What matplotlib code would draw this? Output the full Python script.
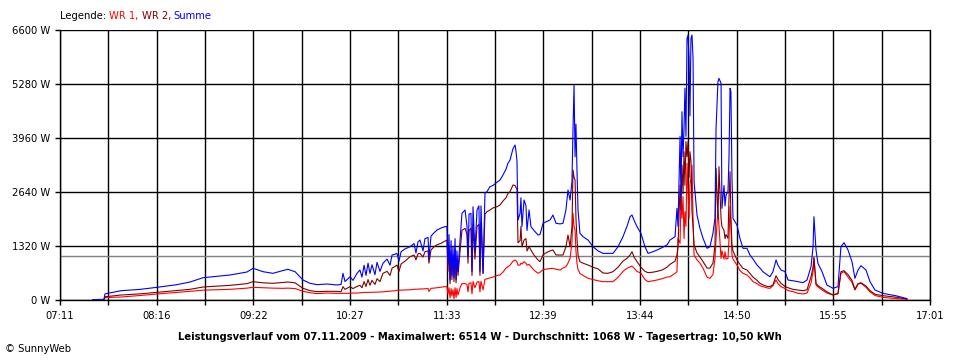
import matplotlib as mpl
mpl.use('Agg')
import matplotlib.pyplot as plt

# Zeitpunkte in Minuten seit Mitternacht
minuten = [453.4, 460.8, 461.5, 465.6, 472.4, 485.3, 496.8, 510.3, 519.2, 528.0,
           546.3, 557.8, 561.9, 568.7, 575.4, 582.2, 585.6, 590.4, 595.8, 600.5,
           605.3, 612.1, 618.8, 621.6, 622.9, 624.3, 627.7, 629.7, 632.4, 634.4,
           635.8, 637.2, 638.5, 639.9, 641.2, 642.6, 644.6, 646.0, 648.0, 650.0,
           652.8, 654.8, 656.2, 658.2, 659.5, 660.9, 662.3, 665.0, 668.4, 671.1,
           672.4, 673.8, 675.1, 677.2, 678.5, 680.6, 681.2, 682.6, 684.6, 686.7,
           689.4, 692.1, 693.4, 694.1, 694.8, 695.5, 696.2, 696.8, 697.5, 698.2,
           698.9, 699.6, 700.2, 700.9, 702.3, 703.6, 705.7, 707.0, 707.7, 708.4,
           709.7, 710.4, 711.1, 712.4, 713.8, 715.1, 715.8, 716.5, 717.9, 719.2,
           720.6, 722.6, 724.6, 727.4, 729.4, 731.4, 733.5, 734.8, 736.2, 738.2,
           739.6, 740.2, 740.9, 741.6, 743.0, 743.6, 744.3, 745.7, 747.0, 747.7,
           749.1, 750.4, 752.4, 755.2, 756.5, 758.6, 759.9, 763.3, 765.3, 767.4,
           770.1, 772.1, 774.1, 775.5, 776.9, 778.2, 778.9, 779.6, 780.3, 780.9,
           781.6, 782.3, 783.6, 785.7, 789.1, 792.5, 795.9, 799.2, 802.6, 806.0,
           809.4, 812.8, 815.5, 817.6, 818.9, 820.3, 822.3, 825.0, 827.7, 829.8,
           833.1, 835.9, 839.3, 842.6, 844.7, 848.1, 849.4, 850.1, 851.5, 852.1,
           852.8, 853.5, 854.2, 854.8, 855.5, 856.2, 856.9, 857.6, 858.2, 858.9,
           859.6, 860.3, 861.0, 863.0, 865.0, 867.1, 869.8, 871.8, 873.8, 875.2,
           875.9, 877.2, 877.9, 879.3, 879.9, 881.3, 882.0, 882.7, 884.0, 884.7,
           885.4, 886.0, 886.7, 887.4, 890.1, 892.1, 894.2, 896.9, 898.9, 901.0,
           903.7, 905.7, 907.7, 911.1, 912.5, 914.5, 916.6, 917.9, 920.0, 922.7,
           924.7, 928.1, 931.5, 934.9, 937.6, 940.3, 941.7, 942.3, 943.7, 945.0,
           947.8, 951.1, 955.2, 958.6, 960.6, 962.7, 965.4, 968.1, 970.1, 972.2,
           974.2, 977.6, 980.3, 983.7, 989.1, 998.6, 1005.4]

# Leistung in W
wr1 = [5, 7, 57, 65, 73, 110, 147, 185, 212, 240,
       261, 290, 310, 300, 290, 285, 290, 280, 212, 180,
       155, 170, 163, 163, 163, 165, 163, 170, 170, 175,
       180, 185, 185, 186, 187, 188, 190, 192, 195, 200,
       210, 215, 220, 225, 240, 240, 242, 245, 250, 260,
       262, 265, 270, 270, 275, 280, 210, 285, 290, 300,
       315, 326, 326, 150, 300, 50, 280, 100, 250, 30,
       300, 60, 280, 120, 300, 400, 400, 380, 200, 410,
       420, 150, 448, 300, 440, 450, 200, 460, 250, 505,
       520, 540, 560, 600, 611, 680, 780, 815, 850, 950,
       978, 960, 930, 850, 855, 900, 880, 937, 900, 850,
       870, 815, 730, 652, 680, 740, 750, 770, 774, 750,
       733, 780, 815, 900, 1018, 1400, 2119, 1800, 1711, 1200,
       900, 750, 652, 600, 530, 500, 470, 448, 448, 448,
       550, 700, 774, 810, 831, 780, 700, 652, 500, 448,
       470, 489, 520, 560, 570, 650, 692, 1507, 1385, 2485,
       2000, 2525, 1500, 2159, 1800, 3341, 2648, 2000, 2800, 3000,
       3300, 2000, 1100, 980, 900, 774, 560, 530, 620, 1018,
       1500, 2200, 1800, 1018, 1200, 1000, 1181, 1000, 1018, 1500,
       2281, 1800, 1100, 1000, 855, 720, 652, 611, 540, 448,
       400, 350, 326, 290, 285, 350, 489, 400, 326, 280,
       230, 204, 163, 147, 170, 408, 700, 1018, 367, 320,
       244, 170, 122, 147, 652, 692, 560, 430, 244, 390,
       408, 310, 200, 110, 65, 33, 16]

wr2 = [5, 8, 81, 95, 122, 150, 188, 230, 261, 318,
       358, 400, 448, 420, 408, 430, 440, 420, 285, 230,
       204, 212, 212, 204, 326, 260, 326, 280, 330, 360,
       300, 450, 330, 500, 360, 480, 380, 520, 450, 652,
       700, 600, 780, 820, 855, 700, 880, 950, 1059, 1100,
       980, 1130, 1140, 1050, 1180, 1200, 900, 1222, 1300, 1350,
       1385, 1440, 1466, 700, 1300, 400, 1200, 500, 1100, 450,
       1250, 420, 1000, 600, 1200, 1700, 1752, 1600, 900, 1700,
       1750, 600, 1833, 1000, 1800, 1850, 600, 1900, 652, 2100,
       2159, 2200, 2250, 2281, 2322, 2420, 2500, 2607, 2650, 2811,
       2800, 2750, 2700, 1400, 1450, 1800, 1300, 1466, 1500, 1200,
       1300, 1222, 1100, 978, 937, 1100, 1140, 1200, 1222, 1100,
       1100, 1100, 1300, 1589, 1303, 1800, 3177, 3000, 2933, 2000,
       1500, 1100, 937, 900, 855, 800, 760, 660, 652, 692,
       800, 950, 1018, 1100, 1181, 1050, 937, 800, 700, 668,
       680, 700, 733, 800, 872, 950, 1100, 1303, 2811, 2200,
       3300, 2600, 3625, 2800, 3870, 3500, 3870, 3000, 3625, 3400,
       2159, 1800, 1344, 1150, 1050, 937, 780, 780, 900, 1344,
       3218, 2000, 3259, 1996, 1800, 1700, 1500, 1600, 1507, 2500,
       3136, 2000, 1344, 1200, 978, 870, 774, 733, 650, 560,
       480, 408, 370, 326, 330, 367, 594, 500, 408, 330,
       300, 260, 244, 228, 250, 570, 800, 1043, 408, 350,
       285, 200, 122, 163, 692, 717, 620, 480, 261, 400,
       423, 342, 230, 140, 106, 65, 24]

summe = [10, 15, 150, 180, 227, 260, 310, 375, 440, 545,
         611, 684, 775, 692, 652, 720, 750, 692, 489, 408,
         375, 391, 367, 380, 652, 450, 570, 480, 650, 733,
         560, 850, 600, 900, 650, 860, 620, 920, 700, 896,
         1000, 850, 1100, 1120, 1140, 950, 1180, 1250, 1303, 1380,
         1150, 1420, 1466, 1200, 1500, 1530, 1000, 1564, 1640, 1711,
         1760, 1792, 1800, 900, 1600, 489, 1450, 600, 1300, 550,
         1500, 500, 1200, 700, 1466, 2119, 2200, 1800, 1059, 2100,
         2119, 700, 2281, 1200, 2200, 2300, 700, 2300, 652, 2607,
         2650, 2770, 2800, 2880, 2933, 3055, 3200, 3341, 3422, 3700,
         3788, 3650, 3400, 1955, 2119, 2500, 1800, 2444, 2300, 1700,
         2200, 1792, 1700, 1589, 1600, 1874, 1900, 1955, 2077, 1874,
         1860, 1874, 2200, 2689, 2444, 2900, 4155, 5255, 3500, 4300,
         3177, 2200, 1630, 1548, 1466, 1303, 1200, 1140, 1140, 1140,
         1300, 1548, 1800, 2036, 2077, 1950, 1792, 1630, 1300, 1140,
         1180, 1222, 1280, 1344, 1466, 1548, 2240, 1800, 4000, 2500,
         4603, 3500, 4200, 5174, 4000, 6390, 6477, 5907, 4500, 6396,
         6477, 5907, 2892, 2077, 1752, 1507, 1263, 1303, 1630, 2000,
         4196, 5336, 5418, 5296, 2240, 2800, 2300, 2566, 2648, 3500,
         5174, 5092, 3000, 1996, 1833, 1507, 1263, 1263, 1100, 1000,
         855, 780, 692, 600, 570, 692, 978, 850, 733, 692,
         489, 470, 448, 423, 489, 815, 1303, 2036, 1222, 896,
         692, 367, 285, 326, 1303, 1401, 1222, 937, 530, 733,
         839, 733, 448, 244, 163, 98, 33]

y_werte = [0, 1320, 2640, 3960, 5280, 6600]
x_beschriftung = ['07:11', '08:16', '09:22', '10:27', '11:33',
                  '12:39', '13:44', '14:50', '15:55', '17:01']
durchschnitt = 1068
beginn, ende = 431, 1021

plt.rcParams['font.family'] = 'DejaVu Sans'
plt.rcParams['font.size'] = 7.2

fig = plt.figure(figsize=(9.6, 3.6), dpi=100)
ax = fig.add_axes([60 / 960, 60 / 360, 870 / 960, 270 / 360])

# Raster: jede halbe Beschriftungsteilung eine Linie
schritt = (ende - beginn) / 18
x_pos = [beginn + i * schritt for i in range(19)]
labels = []
for i in range(19):
    labels.append(x_beschriftung[i // 2] if i % 2 == 0 else '')
ax.set_xticks(x_pos)
ax.set_xticklabels(labels)
ax.set_yticks(y_werte)
ax.set_yticklabels(['%d W' % v for v in y_werte])
ax.set_xlim(beginn, ende)
ax.set_ylim(0, 6600)
ax.grid(True, color='black', linewidth=1)
ax.set_axisbelow(True)
ax.tick_params(axis='x', length=3.6, width=1, color='black', pad=4.5)
ax.tick_params(axis='y', length=3.6, width=1, color='black', pad=3.2)
for s in ax.spines.values():
    s.set_linewidth(1)
ax.spines['top'].set_visible(False)

ax.axhline(durchschnitt, color='#808080', linewidth=1, zorder=2)

ax.plot(minuten, wr1, color='#ff0000', linewidth=0.8, zorder=3)
ax.plot(minuten, wr2, color='#800000', linewidth=0.8, zorder=4)
ax.plot(minuten, summe, color='#0000ff', linewidth=0.8, zorder=5)

# Legende oben links, farbige Textstücke
fig.canvas.draw()
r = fig.canvas.get_renderer()
x = 60 / 960
for txt, col in [('Legende:', 'black'), ('WR 1,', '#ff0000'),
                 ('WR 2,', '#800000'), ('Summe', '#0000ff')]:
    t = fig.text(x, 1 - 16 / 360, txt, color=col, va='center', ha='left')
    bb = t.get_window_extent(r)
    x += (bb.width + 3) / 960

fig.text(0.5, 1 - 337 / 360,
         'Leistungsverlauf vom 07.11.2009 - Maximalwert: 6514 W - '
         'Durchschnitt: 1068 W - Tagesertrag: 10,50 kWh',
         ha='center', va='center', fontweight='bold')
fig.text(5 / 960, 1 - 349 / 360, '© SunnyWeb', ha='left', va='center')

plt.savefig('out.png', dpi=100)
plt.close()
